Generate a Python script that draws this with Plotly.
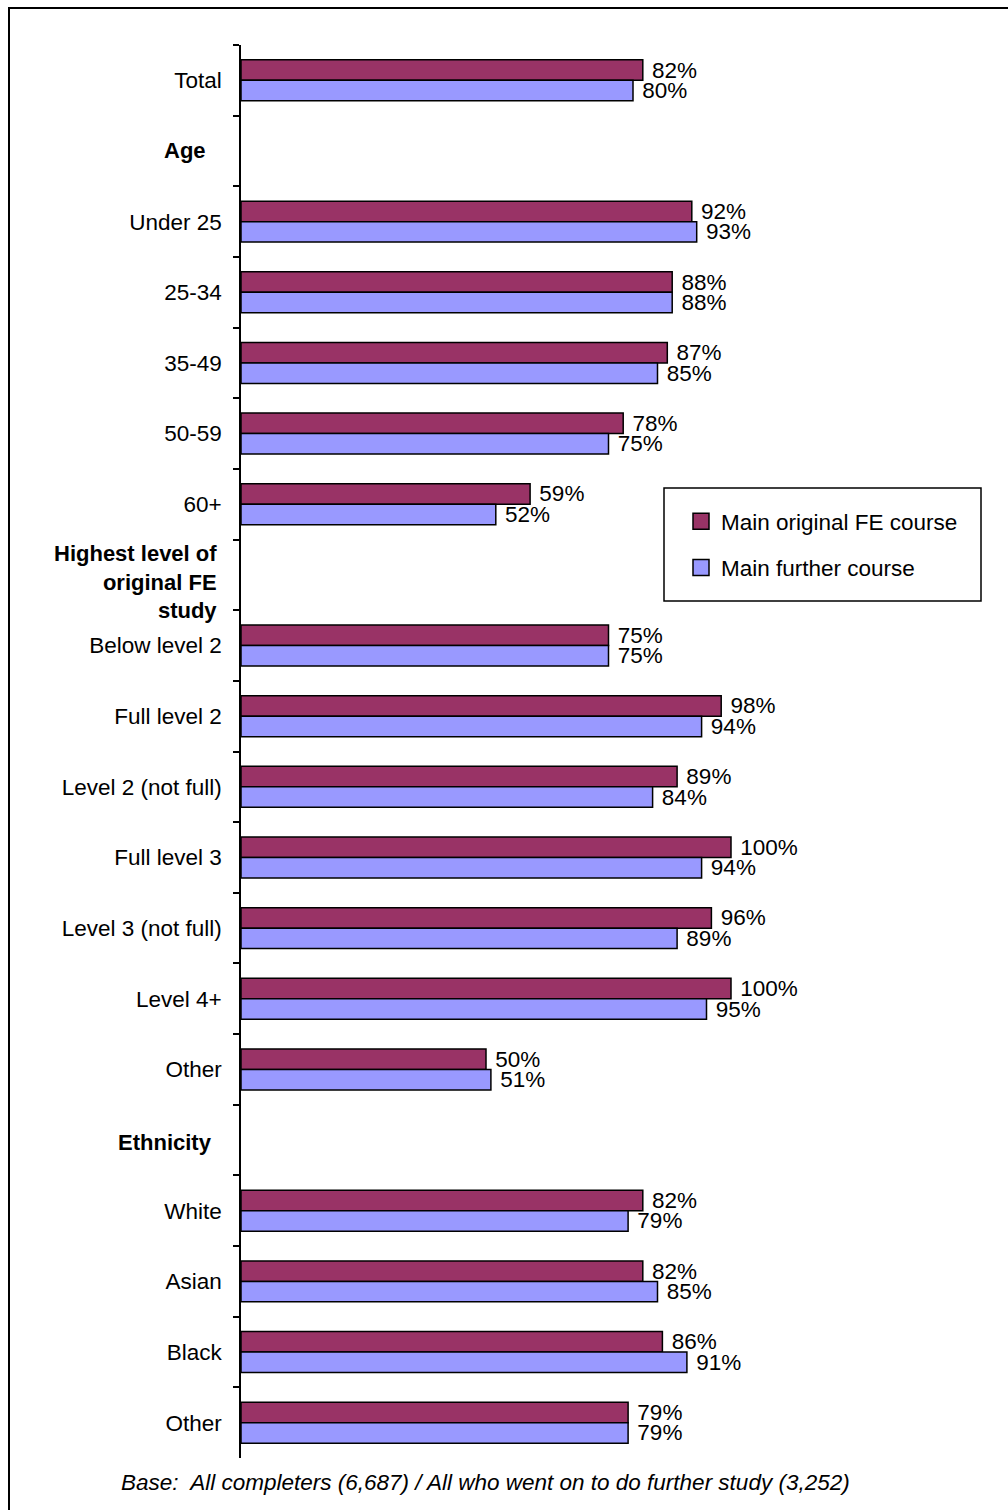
import plotly.graph_objects as go

categories = ["Total", "Age", "Under 25", "25-34", "35-49", "50-59", "60+",
              "Highest level of original FE study",
              "Below level 2", "Full level 2", "Level 2 (not full)", "Full level 3",
              "Level 3 (not full)", "Level 4+", "Other",
              "Ethnicity", "White", "Asian", "Black", "Other"]
is_header = [False, True, False, False, False, False, False, True,
             False, False, False, False, False, False, False,
             True, False, False, False, False]
original_fe = [82, None, 92, 88, 87, 78, 59, None, 75, 98, 89, 100, 96, 100, 50,
               None, 82, 82, 86, 79]
further = [80, None, 93, 88, 85, 75, 52, None, 75, 94, 84, 94, 89, 95, 51,
           None, 79, 85, 91, 79]
series_names = ["Main original FE course", "Main further course"]
colors = ["#993366", "#9999FF"]
note = "Base:  All completers (6,687) / All who went on to do further study (3,252)"

FONT = "Liberation Sans, Arial, sans-serif"
FS = 22.5
W, H = 1008, 1510
L, R, T, B = 241, 7, 45, 52
PW, PH = W - L - R, H - T - B

def px_x(p):
    return (p - L) / PW

def px_y(p):
    return (H - B - p) / PH

ypos = list(range(len(categories)))

fig = go.Figure()
for name, vals, col in zip(series_names, [original_fe, further], colors):
    fig.add_trace(go.Bar(
        y=ypos, x=vals, orientation="h", name=name,
        marker=dict(color=col, line=dict(color="black", width=1.5)),
        text=[f"\u00a0{v}%" if v is not None else "" for v in vals],
        textposition="outside", constraintext="none", cliponaxis=False,
        textfont=dict(family=FONT, size=FS, color="black"),
        showlegend=False, hoverinfo="skip",
    ))

# legend entries
for i, (name, col) in enumerate(zip(series_names, colors)):
    fig.add_trace(go.Scatter(
        x=[None], y=[None], mode="markers", name=name,
        marker=dict(symbol="square", size=18, color=col,
                    line=dict(color="black", width=1.5)),
        legendgroup=f"g{i}", showlegend=True,
    ))

ticktext = ["" if h else c for c, h in zip(categories, is_header)]

fig.update_layout(
    width=W, height=H,
    margin=dict(l=L, r=R, t=T, b=B),
    paper_bgcolor="white", plot_bgcolor="white",
    barmode="group", bargap=0.42, bargroupgap=0,
    font=dict(family=FONT, size=FS, color="black"),
    showlegend=True,
    legend=dict(x=px_x(681), y=px_y(500), xanchor="left", yanchor="top",
                bgcolor="rgba(0,0,0,0)", borderwidth=0,
                traceorder="grouped", tracegroupgap=14,
                itemsizing="trace",
                font=dict(family=FONT, size=FS, color="black")),
    xaxis=dict(range=[0, PW / 4.9], visible=False, showgrid=False, zeroline=False),
    yaxis=dict(range=[len(categories) - 0.5, -0.5], tickmode="array",
               tickvals=ypos, ticktext=ticktext, ticks="outside", ticklen=0,
               tickcolor="white", ticklabelstandoff=13,
               showline=True, linecolor="black", linewidth=1.5,
               showgrid=False, zeroline=False,
               tickfont=dict(family=FONT, size=FS, color="black"),
               minor=dict(tickmode="array",
                          tickvals=[i - 0.5 for i in range(len(categories))],
                          ticks="outside", ticklen=6, tickwidth=1.5,
                          tickcolor="black", showgrid=False)),
)

# header labels (bold)
header_specs = {1: ("<b>Age</b>", 208, 0.0),
                7: ("<b>Highest level of<br>original FE<br>study</b>", 219, 0.1),
                15: ("<b>Ethnicity</b>", 214, 0.04)}
for idx, (txt, xr, dy) in header_specs.items():
    fig.add_annotation(text=txt, xref="paper", x=px_x(xr), xanchor="right",
                       yref="y", y=idx + dy, yanchor="middle", align="right",
                       showarrow=False,
                       font=dict(family=FONT, size=FS - 0.5, color="black"))

# note
fig.add_annotation(text=f"<i>{note}</i>", xref="paper", x=px_x(119), xanchor="left",
                   yref="paper", y=px_y(1482), yanchor="middle", showarrow=False,
                   font=dict(family=FONT, size=FS, color="black"))

# legend border
fig.add_shape(type="rect", xref="paper", yref="paper",
              x0=px_x(664), x1=px_x(981), y0=px_y(601), y1=px_y(488),
              line=dict(color="black", width=1.5), fillcolor="rgba(0,0,0,0)")

# outer frame
fig.add_shape(type="rect", xref="paper", yref="paper",
              x0=px_x(9), x1=px_x(1012), y0=px_y(1514), y1=px_y(8),
              line=dict(color="black", width=2), fillcolor="rgba(0,0,0,0)")

fig.write_html("out.html")
